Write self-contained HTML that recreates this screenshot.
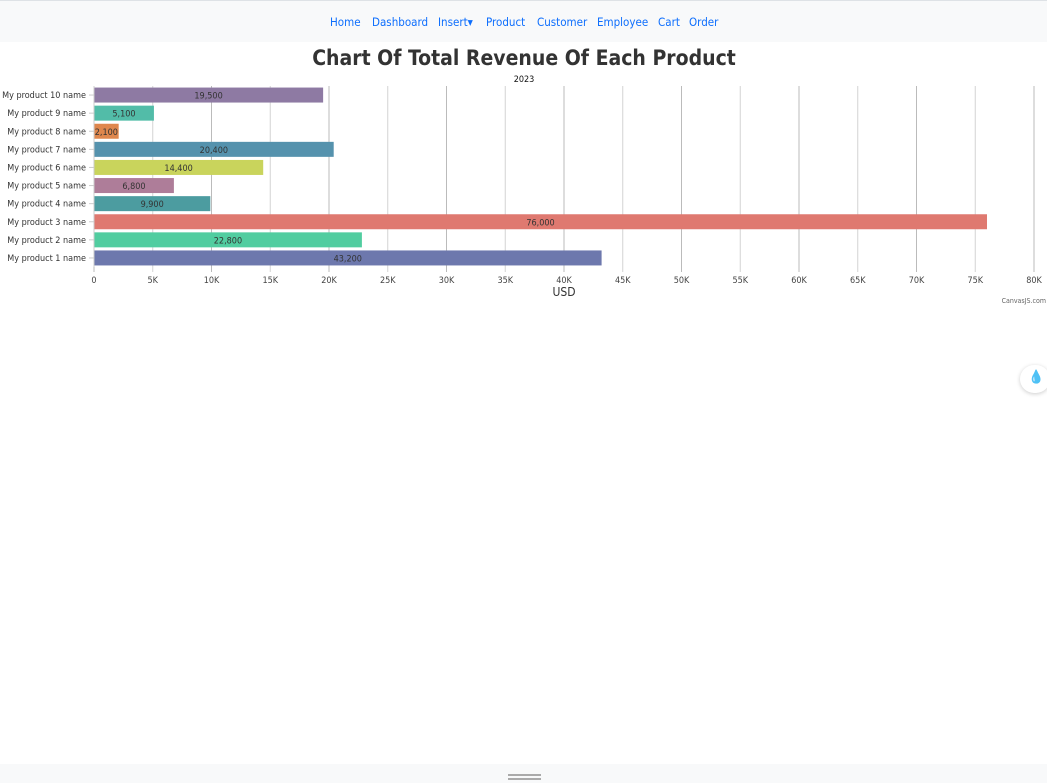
<!DOCTYPE html>
<html><head><meta charset="utf-8">
<style>
html,body{margin:0;padding:0;width:1047px;height:783px;overflow:hidden;background:#fff;font-family:"DejaVu Sans","Liberation Sans",sans-serif;}
#nav{position:absolute;left:0;top:0;width:1047px;height:41px;background:#f8f9fa;border-top:1px solid #dee2e6;}
#nav a{position:absolute;top:14px;font-size:11.5px;color:#0d6efd;text-decoration:none;font-family:"DejaVu Sans Condensed","DejaVu Sans",sans-serif;}
#foot{position:absolute;left:0;top:764px;width:1047px;height:19px;background:#f8f9fa;}
.h{position:absolute;left:508px;width:33px;height:2px;background:#aaa;}
#drop{position:absolute;left:1020px;top:365px;width:30px;height:28px;border-radius:14px;background:#fff;box-shadow:0 1px 4px rgba(0,0,0,.2);}
</style></head><body>
<div id="nav">
<a style="left:330px">Home</a>
<a style="left:372px">Dashboard</a>
<a style="left:438px">Insert▾</a>
<a style="left:486px">Product</a>
<a style="left:537px">Customer</a>
<a style="left:597px">Employee</a>
<a style="left:658px">Cart</a>
<a style="left:689px">Order</a>
</div>
<svg id="chart" width="1047" height="320" style="position:absolute;left:0;top:0" font-family="DejaVu Sans Condensed, DejaVu Sans, sans-serif">
<text x="524" y="65" text-anchor="middle" font-size="21" font-weight="bold" fill="#333">Chart Of Total Revenue Of Each Product</text>
<text x="524" y="82" text-anchor="middle" font-size="9" fill="#111">2023</text>
<g id="grid"></g><g id="bars"></g><g id="axis"></g>
<text x="564" y="296" text-anchor="middle" font-size="12" fill="#333">USD</text>
<text x="1046" y="303" text-anchor="end" font-size="7" fill="#666">CanvasJS.com</text>
</svg>
<div id="drop"><span style="position:absolute;left:8px;top:5px;color:#1e90ff;font-size:13px">💧</span></div>
<div id="foot"><div class="h" style="top:10px"></div><div class="h" style="top:14px"></div></div>
<script>
const categories=["My product 1 name","My product 2 name","My product 3 name","My product 4 name","My product 5 name","My product 6 name","My product 7 name","My product 8 name","My product 9 name","My product 10 name"];
const values=[43200,22800,76000,9900,6800,14400,20400,2100,5100,19500];
const colors=["#6d78ad","#51cda0","#df7970","#4c9ca0","#ae7d99","#c9d45c","#5592ad","#df874d","#52bca8","#8e7aa3"];
const ticks=[0,5000,10000,15000,20000,25000,30000,35000,40000,45000,50000,55000,60000,65000,70000,75000,80000];
const NS="http://www.w3.org/2000/svg";
const x0=94,x1=1034,xmax=80000,plotTop=86,plotBot=267;
const xs=v=>x0+(v/xmax)*(x1-x0);
const band=(plotBot-plotTop)/categories.length;
const ys=i=>plotBot-band*(i+0.5);
function mk(t,a,p){const e=document.createElementNS(NS,t);for(const k in a)e.setAttribute(k,a[k]);p.appendChild(e);return e;}
const grid=document.getElementById('grid'),bars=document.getElementById('bars'),axis=document.getElementById('axis');
ticks.forEach(t=>{
 const l=mk('line',{x1:xs(t),x2:xs(t),y1:plotTop,y2:plotBot+5,stroke:t%10000?'#d4d4d4':'#bbb','stroke-width':1},grid);
 
 
 const tx=mk('text',{x:xs(t),y:283,'text-anchor':'middle','font-size':9,fill:'#444'},axis);
 tx.textContent=t===0?'0':(t/1000)+'K';
 
 
});
mk('line',{x1:x0,x2:x0,y1:plotTop,y2:plotBot,stroke:'#ccc'},axis);
categories.forEach((c,i)=>{
 const y=ys(i),h=15;
 const r=mk('rect',{x:x0,y:y-h/2,width:xs(values[i])-x0,height:h,fill:colors[i]},bars);
 
 
 const vt=mk('text',{x:(x0+xs(values[i]))/2,y:y+3.5,'text-anchor':'middle','font-size':9,fill:'#333'},bars);
 vt.textContent=values[i].toLocaleString('en-US');
 
 
 mk('line',{x1:x0-5,x2:x0,y1:y,y2:y,stroke:'#ccc'},axis);
 const ct=mk('text',{x:x0-8,y:y+3,'text-anchor':'end','font-size':9,fill:'#333'},axis);
 ct.textContent=c;
 
 
});
</script>
</body></html>
